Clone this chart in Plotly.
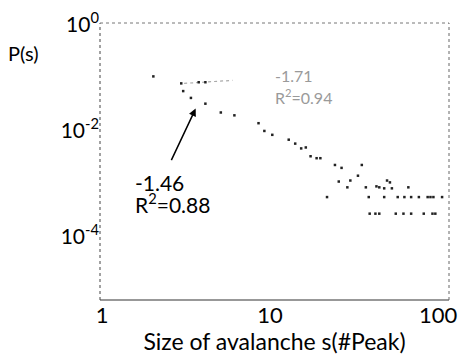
import plotly.graph_objects as go

# Avalanche size distribution
s_vals = [2.02, 2.96, 3.04, 3.38, 3.76, 4.12, 4.12, 5.09, 6.13, 8.53, 9.24, 10.3, 12.9, 14.1,
          15.3, 16.3, 17.4, 18.9, 19.9, 24.3, 26.6, 35.1, 25.6, 30.0, 33.3, 28.8, 37.1, 42.9,
          44.6, 49.6, 51.6, 47.7, 53.0, 66.4,
          21.8, 38.6, 47.7, 57.4, 62.9, 69.0, 76.7, 86.5, 89.9, 93.6, 105.4,
          39.1, 42.3, 44.6, 55.9, 62.1, 69.0, 82.0, 92.4, 96.1]
p_vals = [0.107, 0.079, 0.0565, 0.042, 0.083, 0.083, 0.0327, 0.0223, 0.0197, 0.014, 0.010,
          0.00845, 0.00684, 0.00577, 0.00468, 0.00488, 0.00333, 0.00306, 0.00306, 0.00228,
          0.00201, 0.00228, 0.00111, 0.00116, 0.00143, 0.000863, 0.000863, 0.0009, 0.000863,
          0.00116, 0.00107, 0.000826, 0.000826, 0.000863,
          0.000565, 0.000565, 0.000565, 0.000565, 0.000565, 0.000565, 0.000565, 0.000565,
          0.000565, 0.000565, 0.000565,
          0.000275, 0.000275, 0.000275, 0.000275, 0.000275, 0.000275, 0.000275, 0.000275,
          0.000275]

# faint fit segment
s_fit = [3.08, 5.97]
p_fit = [0.079, 0.09]

x_ticks = [1, 10, 100]
x_ticktext = ["1", "10", "100"]
y_ticks = [1, 1e-2, 1e-4]
y_ticktext = ["10<sup>0</sup>", "10<sup>-2</sup>", "10<sup>-4</sup>"]

FONT = "Lato"

fig = go.Figure()
fig.add_trace(go.Scatter(x=s_fit, y=p_fit, mode="lines",
                         line=dict(color="#aaaaaa", width=1.2, dash="dot"),
                         showlegend=False, hoverinfo="skip"))
fig.add_trace(go.Scatter(x=s_vals, y=p_vals, mode="markers",
                         marker=dict(symbol="square", size=2.5, color="#222222"),
                         showlegend=False))

fig.update_layout(
    width=466, height=355,
    margin=dict(l=100, r=9, t=18, b=52),
    paper_bgcolor="white", plot_bgcolor="white",
    font=dict(family=FONT, color="black", size=20),
    xaxis=dict(type="log", range=[-0.012, 2.064], tickvals=x_ticks, ticktext=x_ticktext,
               showgrid=False, zeroline=False, showline=False, ticks="",
               tickfont=dict(size=22), ticklabeloverflow="allow",
               title=dict(text="Size of avalanche s(#Peak)", font=dict(size=23), standoff=2)),
    yaxis=dict(type="log", range=[-5.19, 0.037], tickvals=y_ticks, ticktext=y_ticktext,
               showgrid=False, zeroline=False, showline=False, ticks="",
               tickfont=dict(size=21)),
    shapes=[
        dict(type="line", xref="paper", yref="paper", x0=0, x1=1, y0=0, y1=0,
             line=dict(color="#333333", width=1.2)),
        dict(type="line", xref="paper", yref="paper", x0=0, x1=0, y0=0, y1=1,
             line=dict(color="#444444", width=1, dash="dot")),
        dict(type="line", xref="paper", yref="paper", x0=0, x1=1, y0=1, y1=1,
             line=dict(color="#777777", width=1, dash="dot")),
        dict(type="line", xref="paper", yref="paper", x0=1, x1=1, y0=0, y1=1,
             line=dict(color="#666666", width=1, dash="dot")),
    ],
    annotations=[
        dict(text="P(s)", xref="paper", yref="paper", x=-0.22, y=0.89,
             xanchor="center", yanchor="middle", showarrow=False, font=dict(size=20)),
        dict(text="", x=0.557, y=-1.578, xref="x", yref="y", showarrow=True,
             ax=-25, ay=53, arrowhead=2, arrowsize=1, arrowwidth=1.5, arrowcolor="black"),
        dict(text="-1.46", x=0.184, y=-2.97, xref="x", yref="y", xanchor="left",
             yanchor="middle", showarrow=False, font=dict(size=21)),
        dict(text="R<sup>2</sup>=0.88", x=0.184, y=-3.36, xref="x", yref="y", xanchor="left",
             yanchor="middle", showarrow=False, font=dict(size=21)),
        dict(text="-1.71", x=1.017, y=-0.954, xref="x", yref="y", xanchor="left",
             yanchor="middle", showarrow=False, font=dict(size=16, color="#9a9a9a")),
        dict(text="R<sup>2</sup>=0.94", x=1.017, y=-1.358, xref="x", yref="y", xanchor="left",
             yanchor="middle", showarrow=False, font=dict(size=16, color="#9a9a9a")),
    ],
)

fig.write_html("out.html")
